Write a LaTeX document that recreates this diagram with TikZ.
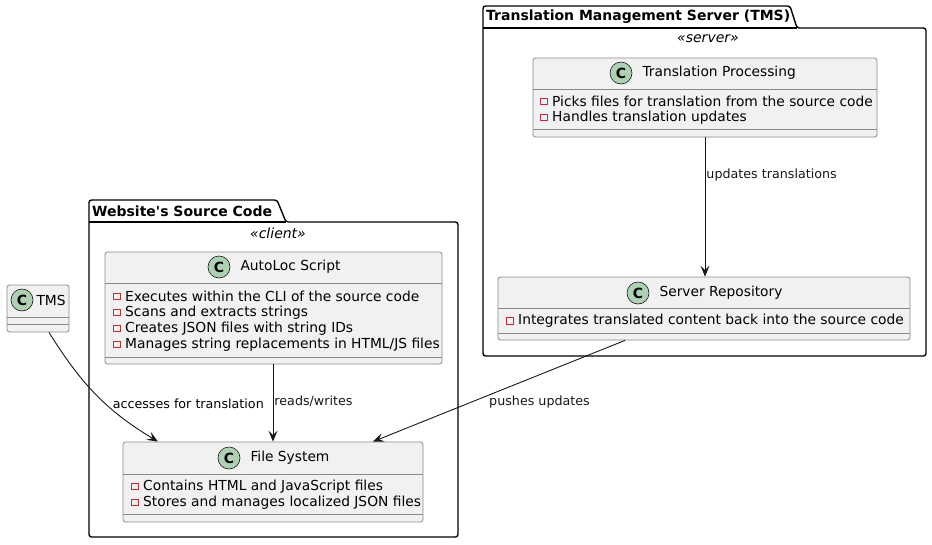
\documentclass[tikz,border=0pt]{standalone}
\usepackage{fontspec}
\setmainfont{DejaVu Sans}
\usepackage{xcolor}
\usetikzlibrary{arrows.meta,positioning}
\definecolor{umlink}{HTML}{181818}
\definecolor{umlfill}{HTML}{F1F1F1}
\definecolor{umledge}{HTML}{8A8A8A}
\definecolor{umlbadge}{HTML}{ADD1B2}
\definecolor{umlred}{HTML}{C82930}

\begin{document}
\begin{tikzpicture}[
  x=1pt,y=-1pt,
  every node/.style={font=\fontsize{13.8}{16}\selectfont,inner sep=0pt},
  cls/.style={draw=umledge,fill=umlfill,line width=0.8pt,rounded corners=2.5pt},
  sep/.style={draw=umledge,line width=0.8pt},
  badge/.style={circle,draw=umlink,fill=umlbadge,line width=0.6pt,minimum size=22pt,font=\fontsize{14}{14}\selectfont\bfseries},
  ctitle/.style={anchor=west},
  member/.style={anchor=west},
  privbox/.style={draw=umlred,line width=0.8pt,minimum size=6.5pt,left=4.5pt of #1},
  pkg/.style={draw=black,line width=1.4pt,rounded corners=2.5pt,line join=round},
  pkgname/.style={anchor=west,font=\fontsize{14}{16}\selectfont\bfseries},
  stereo/.style={font=\fontsize{14}{16}\selectfont\itshape},
  lbl/.style={font=\fontsize{12.7}{15}\selectfont},
  arrow/.style={-{Stealth[length=11pt,width=9pt,inset=4.5pt]},line width=0.9pt,color=umlink}
]
\useasboundingbox (0,0) rectangle (932,544);

% packages
\draw[pkg] (89,222) -- (89,200) -- (277,200) -- (286,222) -- (458,222) -- (458,537) -- (89,537) -- cycle;
\draw[pkg] (89,222) -- (286,222);
\node[pkgname] (webpkg) at (92,211) {Website\textquotesingle s Source Code};
\node[stereo] (webster) at (278,233) {«client»};

\draw[pkg] (483,28) -- (483,6) -- (790,6) -- (797,28) -- (926,28) -- (926,356) -- (483,356) -- cycle;
\draw[pkg] (483,28) -- (797,28);
\node[pkgname] (tmspkg) at (486,17) {Translation Management Server (TMS)};
\node[stereo] (tmsster) at (708,39) {«server»};

% classes
\node[cls,minimum width=337pt,minimum height=112pt] (autoloc) at (273.5,308) {};
\draw[sep] (autoloc.west |- 0,283) -- (autoloc.east |- 0,283);
\draw[sep] (autoloc.west |- 0,357) -- (autoloc.east |- 0,357);
\node[badge] (autoloc-c) at (219,267) {C};
\node[ctitle,right=10pt of autoloc-c] (autoloc-t) {AutoLoc Script};
\node[member] (autoloc-m1) at (125,296.5) {Executes within the CLI of the source code};
\node[member] (autoloc-m2) at (125,312.5) {Scans and extracts strings};
\node[member] (autoloc-m3) at (125,328.5) {Creates JSON files with string IDs};
\node[member] (autoloc-m4) at (125,344.5) {Manages string replacements in HTML/JS files};
\node[privbox=autoloc-m1] (autoloc-p1) {};
\node[privbox=autoloc-m2] (autoloc-p2) {};
\node[privbox=autoloc-m3] (autoloc-p3) {};
\node[privbox=autoloc-m4] (autoloc-p4) {};

\node[cls,minimum width=300pt,minimum height=80pt] (filesys) at (273,482) {};
\draw[sep] (filesys.west |- 0,474) -- (filesys.east |- 0,474);
\draw[sep] (filesys.west |- 0,514) -- (filesys.east |- 0,514);
\node[badge] (filesys-c) at (229,458) {C};
\node[ctitle,right=10pt of filesys-c] (filesys-t) {File System};
\node[member] (filesys-m1) at (143,486.5) {Contains HTML and JavaScript files};
\node[member] (filesys-m2) at (143,502.5) {Stores and manages localized JSON files};
\node[privbox=filesys-m1] (filesys-p1) {};
\node[privbox=filesys-m2] (filesys-p2) {};

\node[cls,minimum width=62pt,minimum height=47pt] (tms) at (38,308.5) {};
\draw[sep] (tms.west |- 0,317) -- (tms.east |- 0,317);
\draw[sep] (tms.west |- 0,324) -- (tms.east |- 0,324);
\node[badge] (tms-c) at (22,300) {C};
\node[ctitle,right=3pt of tms-c] (tms-t) {TMS};

\node[cls,minimum width=344pt,minimum height=79pt] (trproc) at (705,97.5) {};
\draw[sep] (trproc.west |- 0,89) -- (trproc.east |- 0,89);
\draw[sep] (trproc.west |- 0,129) -- (trproc.east |- 0,129);
\node[badge] (trproc-c) at (621,73) {C};
\node[ctitle,right=10pt of trproc-c] (trproc-t) {Translation Processing};
\node[member] (trproc-m1) at (552,101.5) {Picks files for translation from the source code};
\node[member] (trproc-m2) at (552,117.5) {Handles translation updates};
\node[privbox=trproc-m1] (trproc-p1) {};
\node[privbox=trproc-m2] (trproc-p2) {};

\node[cls,minimum width=412pt,minimum height=63pt] (srvrepo) at (704,308.5) {};
\draw[sep] (srvrepo.west |- 0,308) -- (srvrepo.east |- 0,308);
\draw[sep] (srvrepo.west |- 0,333) -- (srvrepo.east |- 0,333);
\node[badge] (srvrepo-c) at (638,293) {C};
\node[ctitle,right=10pt of srvrepo-c] (srvrepo-t) {Server Repository};
\node[member] (srvrepo-m1) at (518,321) {Integrates translated content back into the source code};
\node[privbox=srvrepo-m1] (srvrepo-p1) {};

% connectors
\draw[arrow] (trproc.south) -- node[lbl,pos=0.28,anchor=west,xshift=1pt,yshift=1pt] (lbl-upd) {updates translations} (trproc.south |- srvrepo.north);
\draw[arrow] (filesys.north |- autoloc.south) -- node[lbl,pos=0.5,anchor=west,xshift=1pt,yshift=1.5pt] (lbl-rw) {reads/writes} (filesys.north);
\draw[arrow] ([xshift=11pt]tms.south) to[out=-58,in=149] ([xshift=-115pt]filesys.north);
\node[lbl,anchor=east] (lbl-acc) at (264,404) {accesses for translation};
\draw[arrow] ([xshift=-79pt]srvrepo.south) -- node[lbl,pos=0.62,anchor=west,xshift=20pt,yshift=1.5pt] (lbl-push) {pushes updates} ([xshift=100pt]filesys.north);
\end{tikzpicture}
\end{document}
